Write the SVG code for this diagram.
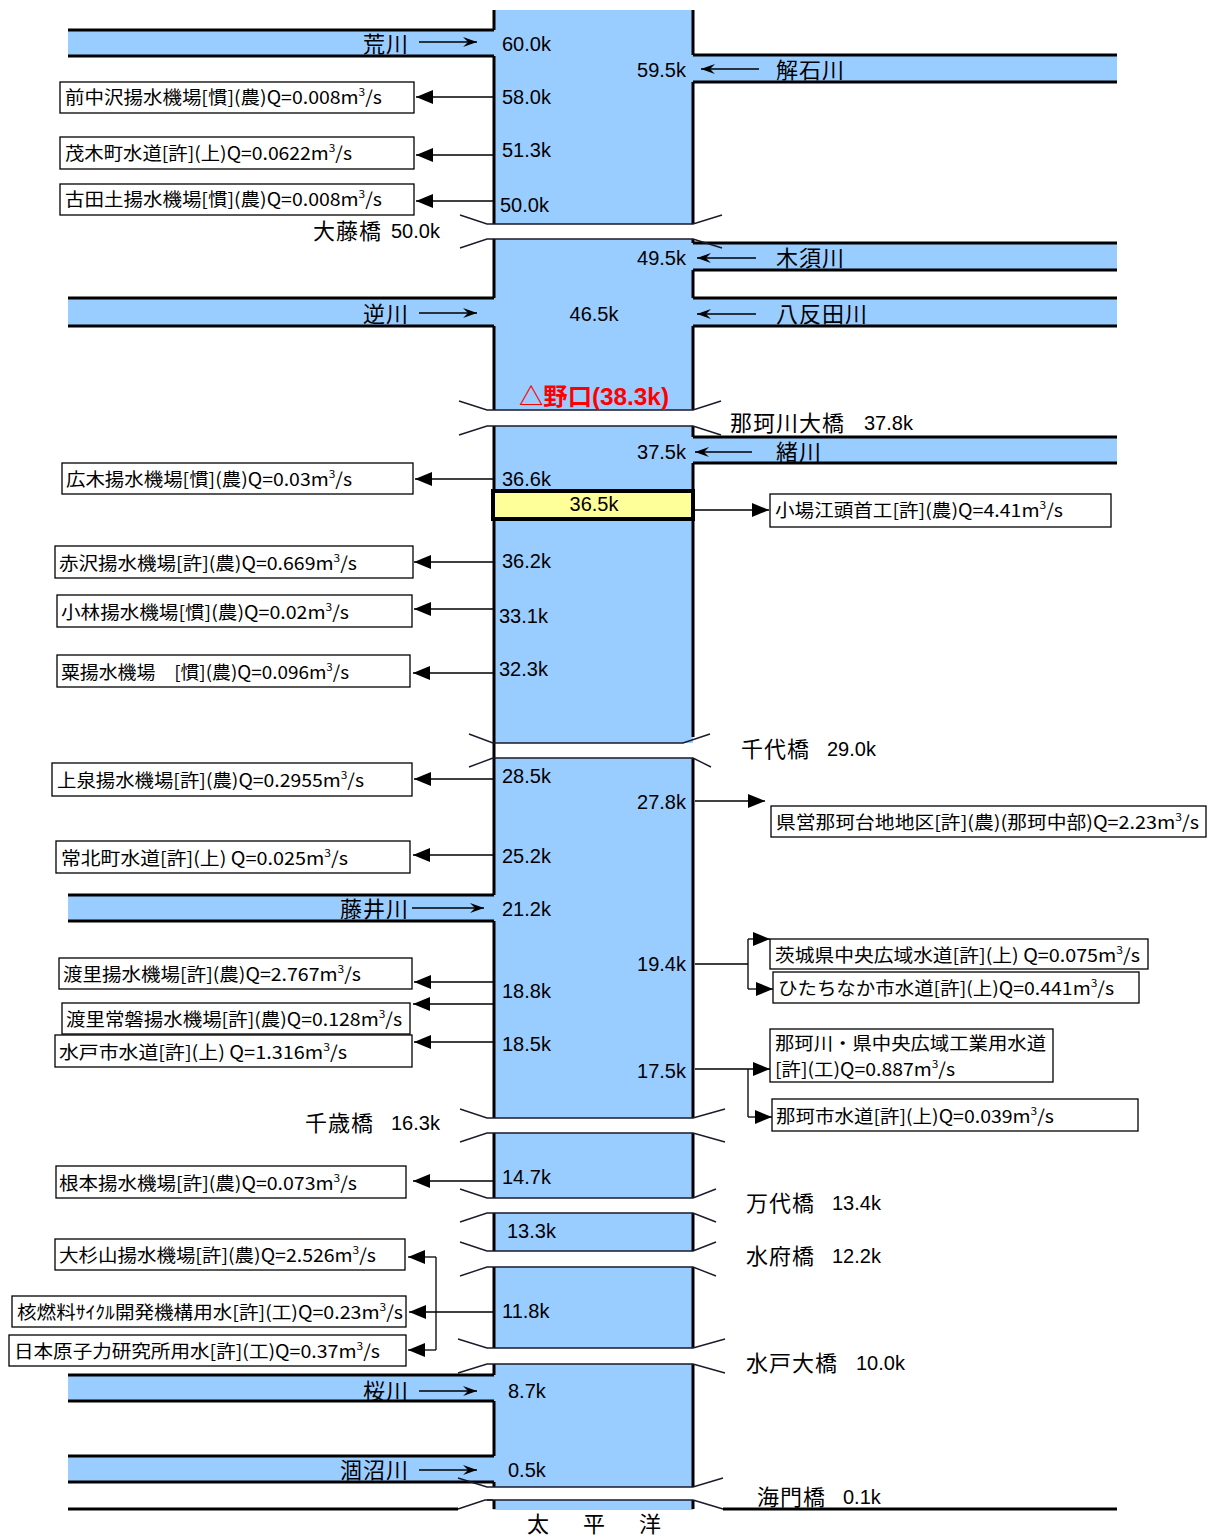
<svg xmlns="http://www.w3.org/2000/svg" width="1214" height="1537" viewBox="0 0 1214 1537">
<style>
.w{fill:#99CCFF}
.bank{fill:none;stroke:#000;stroke-width:3}
.edge{fill:none;stroke:#1a1a2a;stroke-width:1.4}
.lbl{font-family:"Liberation Sans","Noto Sans CJK JP",sans-serif;font-size:20px;fill:#000}
.jp{font-family:"Noto Sans CJK JP",sans-serif;font-size:22px;letter-spacing:1px;fill:#000}
.box rect{fill:#fff;stroke:#000;stroke-width:1.3}
.box text{font-family:"Noto Sans CJK JP",sans-serif;font-size:18px;fill:#000}
.sup{font-size:11px}
.con{fill:none;stroke:#000;stroke-width:1.3}
.trib{fill:none;stroke:#000;stroke-width:1.5}
</style>
<defs>
<marker id="fa" markerUnits="userSpaceOnUse" markerWidth="17" markerHeight="14" refX="17" refY="7" orient="auto"><path d="M0,0 L17,7 L0,14 Z" fill="#000"/></marker>
<marker id="oa" markerUnits="userSpaceOnUse" markerWidth="14" markerHeight="10" refX="14" refY="5" orient="auto"><path d="M0,0 L14,5 L0,10 L5,5 Z" fill="#000"/></marker>
</defs>

<g id="river">
<rect class="w" x="493" y="10" width="200" height="214"/>
<rect class="w" x="493" y="239" width="200" height="171"/>
<rect class="w" x="493" y="426" width="200" height="317"/>
<rect class="w" x="493" y="758" width="200" height="360"/>
<rect class="w" x="493" y="1133" width="200" height="65"/>
<rect class="w" x="493" y="1213" width="200" height="38"/>
<rect class="w" x="493" y="1267" width="200" height="81"/>
<rect class="w" x="493" y="1364" width="200" height="123"/>
<rect class="w" x="493" y="1500" width="200" height="10"/>
<rect class="w" x="68" y="30" width="426" height="26"/>
<rect class="w" x="68" y="298" width="426" height="28"/>
<rect class="w" x="68" y="895" width="426" height="26"/>
<rect class="w" x="68" y="1375" width="426" height="26"/>
<rect class="w" x="68" y="1456" width="426" height="26"/>
<rect class="w" x="693" y="55" width="424" height="27"/>
<rect class="w" x="693" y="243" width="424" height="27"/>
<rect class="w" x="693" y="298" width="424" height="28"/>
<rect class="w" x="693" y="437" width="424" height="26"/>
<path class="bank" d="M494,10V30 M494,56V224 M494,239V298 M494,326V410 M494,426V895 M494,921V1118 M494,1133V1198 M494,1213V1251 M494,1267V1348 M494,1364V1375 M494,1401V1456 M494,1482V1487 M494,1500V1509
M693,10V55 M693,82V224 M693,239V243 M693,270V298 M693,326V410 M693,426V437 M693,463V737 M693,758V1118 M693,1133V1198 M693,1213V1251 M693,1267V1348 M693,1364V1487 M693,1500V1509
M68,30H494 M68,56H494 M68,298H494 M68,326H494 M68,895H494 M68,921H494 M68,1375H494 M68,1401H494 M68,1456H494 M68,1482H494
M693,55H1117 M693,82H1117 M693,243H1117 M693,270H1117 M693,298H1117 M693,326H1117 M693,437H1117 M693,463H1117"/>
<path class="edge" d="M460,215 L487,224 H693 L722,215 M460,248 L487,239 H693 L722,248
M459,401 L487,410 H693 L721,401 M459,435 L487,426 H693 L721,435
M469,734 L493,743 H683 L710,734 M469,767 L493,758 H693 L711,767
M460,1109 L487,1118 H693 L725,1109 M460,1142 L487,1133 H693 L725,1142
M460,1189 L487,1198 H693 L716,1189 M460,1222 L487,1213 H693 L716,1222
M460,1242 L487,1251 H693 L716,1242 M460,1276 L487,1267 H693 L716,1276
M458,1339 L487,1348 H693 L725,1339 M458,1373 L487,1364 H693 L725,1373
M458,1478 L487,1487 H693 L723,1478 M487,1500 H693"/>
<path class="bank" d="M68,1509 H458 M723,1509 H1117" stroke-width="2.5"/>
<path class="edge" d="M458,1509 L485,1500 H493 M693,1500 L723,1509"/>
<rect x="493" y="491" width="200" height="28" fill="#FFFF99" stroke="#000" stroke-width="4"/>
</g>

<g id="labels">
<text class="lbl" x="502" y="51">60.0k</text>
<text class="lbl" x="686" y="77" text-anchor="end">59.5k</text>
<text class="lbl" x="502" y="104">58.0k</text>
<text class="lbl" x="502" y="157">51.3k</text>
<text class="lbl" x="500" y="212">50.0k</text>
<text class="lbl" x="686" y="265" text-anchor="end">49.5k</text>
<text class="lbl" x="594" y="321" text-anchor="middle">46.5k</text>
<text x="519" y="405" textLength="150" lengthAdjust="spacingAndGlyphs" font-family="Liberation Sans,'Noto Sans CJK JP',sans-serif" font-size="24" font-weight="bold" fill="#FF0000">△野口(38.3k)</text>
<text class="lbl" x="686" y="459" text-anchor="end">37.5k</text>
<text class="lbl" x="502" y="486">36.6k</text>
<text class="lbl" x="594" y="511" text-anchor="middle">36.5k</text>
<text class="lbl" x="502" y="568">36.2k</text>
<text class="lbl" x="499" y="623">33.1k</text>
<text class="lbl" x="499" y="676">32.3k</text>
<text class="lbl" x="502" y="783">28.5k</text>
<text class="lbl" x="686" y="809" text-anchor="end">27.8k</text>
<text class="lbl" x="502" y="863">25.2k</text>
<text class="lbl" x="502" y="916">21.2k</text>
<text class="lbl" x="686" y="971" text-anchor="end">19.4k</text>
<text class="lbl" x="502" y="998">18.8k</text>
<text class="lbl" x="502" y="1051">18.5k</text>
<text class="lbl" x="686" y="1078" text-anchor="end">17.5k</text>
<text class="lbl" x="502" y="1184">14.7k</text>
<text class="lbl" x="507" y="1238">13.3k</text>
<text class="lbl" x="502" y="1318">11.8k</text>
<text class="lbl" x="508" y="1398">8.7k</text>
<text class="lbl" x="508" y="1477">0.5k</text>

<text class="jp" x="363" y="52">荒川</text>
<text class="jp" x="776" y="78">解石川</text>
<text class="jp" x="776" y="266">木須川</text>
<text class="jp" x="363" y="322">逆川</text>
<text class="jp" x="776" y="322">八反田川</text>
<text class="jp" x="776" y="460">緒川</text>
<text class="jp" x="340" y="917">藤井川</text>
<text class="jp" x="363" y="1399">桜川</text>
<text class="jp" x="340" y="1478">涸沼川</text>

<text class="jp" x="313" y="239">大藤橋</text><text class="lbl" x="391" y="238">50.0k</text>
<text class="jp" x="730" y="431">那珂川大橋</text><text class="lbl" x="864" y="430">37.8k</text>
<text class="jp" x="741" y="757">千代橋</text><text class="lbl" x="827" y="756">29.0k</text>
<text class="jp" x="305" y="1131">千歳橋</text><text class="lbl" x="391" y="1130">16.3k</text>
<text class="jp" x="746" y="1211">万代橋</text><text class="lbl" x="832" y="1210">13.4k</text>
<text class="jp" x="746" y="1264">水府橋</text><text class="lbl" x="832" y="1263">12.2k</text>
<text class="jp" x="746" y="1371">水戸大橋</text><text class="lbl" x="856" y="1370">10.0k</text>
<text class="jp" x="757" y="1505">海門橋</text><text class="lbl" x="843" y="1504">0.1k</text>
<text class="jp" x="527" y="1532">太</text>
<text class="jp" x="583" y="1532">平</text>
<text class="jp" x="639" y="1532">洋</text>
</g>

<g id="n1" class="box"><rect x="60" y="82" width="354" height="31"/><text x="65" y="104" textLength="317" lengthAdjust="spacingAndGlyphs">前中沢揚水機場[慣](農)Q=0.008m<tspan class="sup" dy="-8">3</tspan><tspan dy="8">/s</tspan></text></g>
<g id="n2" class="box"><rect x="60" y="137" width="354" height="32"/><text x="65" y="160" textLength="287" lengthAdjust="spacingAndGlyphs">茂木町水道[許](上)Q=0.0622m<tspan class="sup" dy="-8">3</tspan><tspan dy="8">/s</tspan></text></g>
<g id="n3" class="box"><rect x="60" y="184" width="354" height="31"/><text x="65" y="206" textLength="317" lengthAdjust="spacingAndGlyphs">古田土揚水機場[慣](農)Q=0.008m<tspan class="sup" dy="-8">3</tspan><tspan dy="8">/s</tspan></text></g>
<g id="n4" class="box"><rect x="62" y="463" width="351" height="31"/><text x="66" y="486" textLength="286" lengthAdjust="spacingAndGlyphs">広木揚水機場[慣](農)Q=0.03m<tspan class="sup" dy="-8">3</tspan><tspan dy="8">/s</tspan></text></g>
<g id="n5" class="box"><rect x="55" y="546" width="358" height="32"/><text x="59" y="570" textLength="298" lengthAdjust="spacingAndGlyphs">赤沢揚水機場[許](農)Q=0.669m<tspan class="sup" dy="-8">3</tspan><tspan dy="8">/s</tspan></text></g>
<g id="n6" class="box"><rect x="57" y="595" width="355" height="32"/><text x="61" y="619" textLength="288" lengthAdjust="spacingAndGlyphs">小林揚水機場[慣](農)Q=0.02m<tspan class="sup" dy="-8">3</tspan><tspan dy="8">/s</tspan></text></g>
<g id="n7" class="box"><rect x="57" y="655" width="353" height="32"/><text x="61" y="679" textLength="288" lengthAdjust="spacingAndGlyphs">粟揚水機場　[慣](農)Q=0.096m<tspan class="sup" dy="-8">3</tspan><tspan dy="8">/s</tspan></text></g>
<g id="n8" class="box"><rect x="52" y="763" width="360" height="33"/><text x="57" y="787" textLength="307" lengthAdjust="spacingAndGlyphs">上泉揚水機場[許](農)Q=0.2955m<tspan class="sup" dy="-8">3</tspan><tspan dy="8">/s</tspan></text></g>
<g id="n9" class="box"><rect x="56" y="841" width="354" height="32"/><text x="61" y="865" textLength="287" lengthAdjust="spacingAndGlyphs">常北町水道[許](上) Q=0.025m<tspan class="sup" dy="-8">3</tspan><tspan dy="8">/s</tspan></text></g>
<g id="n10" class="box"><rect x="59" y="958" width="353" height="31"/><text x="63" y="981" textLength="298" lengthAdjust="spacingAndGlyphs">渡里揚水機場[許](農)Q=2.767m<tspan class="sup" dy="-8">3</tspan><tspan dy="8">/s</tspan></text></g>
<g id="n11" class="box"><rect x="62" y="1003" width="348" height="31"/><text x="66" y="1026" textLength="336" lengthAdjust="spacingAndGlyphs">渡里常磐揚水機場[許](農)Q=0.128m<tspan class="sup" dy="-8">3</tspan><tspan dy="8">/s</tspan></text></g>
<g id="n12" class="box"><rect x="55" y="1035" width="357" height="32"/><text x="59" y="1059" textLength="288" lengthAdjust="spacingAndGlyphs">水戸市水道[許](上) Q=1.316m<tspan class="sup" dy="-8">3</tspan><tspan dy="8">/s</tspan></text></g>
<g id="n13" class="box"><rect x="56" y="1166" width="350" height="32"/><text x="59" y="1190" textLength="298" lengthAdjust="spacingAndGlyphs">根本揚水機場[許](農)Q=0.073m<tspan class="sup" dy="-8">3</tspan><tspan dy="8">/s</tspan></text></g>
<g id="n14" class="box"><rect x="55" y="1239" width="350" height="31"/><text x="59" y="1262" textLength="317" lengthAdjust="spacingAndGlyphs">大杉山揚水機場[許](農)Q=2.526m<tspan class="sup" dy="-8">3</tspan><tspan dy="8">/s</tspan></text></g>
<g id="n15" class="box"><rect x="12" y="1296" width="394" height="31"/><text x="17" y="1319" textLength="386" lengthAdjust="spacingAndGlyphs">核燃料ｻｲｸﾙ開発機構用水[許](工)Q=0.23m<tspan class="sup" dy="-8">3</tspan><tspan dy="8">/s</tspan></text></g>
<g id="n16" class="box"><rect x="9" y="1335" width="397" height="31"/><text x="14" y="1358" textLength="366" lengthAdjust="spacingAndGlyphs">日本原子力研究所用水[許](工)Q=0.37m<tspan class="sup" dy="-8">3</tspan><tspan dy="8">/s</tspan></text></g>
<g id="r1" class="box"><rect x="770" y="494" width="341" height="33"/><text x="775" y="517" textLength="288" lengthAdjust="spacingAndGlyphs">小場江頭首工[許](農)Q=4.41m<tspan class="sup" dy="-8">3</tspan><tspan dy="8">/s</tspan></text></g>
<g id="r2" class="box"><rect x="771" y="806" width="435" height="31"/><text x="776" y="829" textLength="423" lengthAdjust="spacingAndGlyphs">県営那珂台地地区[許](農)(那珂中部)Q=2.23m<tspan class="sup" dy="-8">3</tspan><tspan dy="8">/s</tspan></text></g>
<g id="r3" class="box"><rect x="770" y="939" width="378" height="30"/><text x="775" y="962" textLength="365" lengthAdjust="spacingAndGlyphs">茨城県中央広域水道[許](上) Q=0.075m<tspan class="sup" dy="-8">3</tspan><tspan dy="8">/s</tspan></text></g>
<g id="r4" class="box"><rect x="773" y="972" width="366" height="31"/><text x="778" y="995" textLength="336" lengthAdjust="spacingAndGlyphs">ひたちなか市水道[許](上)Q=0.441m<tspan class="sup" dy="-8">3</tspan><tspan dy="8">/s</tspan></text></g>
<g id="r5" class="box"><rect x="770" y="1029" width="283" height="53"/><text x="775" y="1050" textLength="271" lengthAdjust="spacingAndGlyphs">那珂川・県中央広域工業用水道</text><text x="775" y="1076" textLength="180" lengthAdjust="spacingAndGlyphs">[許](工)Q=0.887m<tspan class="sup" dy="-8">3</tspan><tspan dy="8">/s</tspan></text></g>
<g id="r6" class="box"><rect x="772" y="1099" width="366" height="32"/><text x="776" y="1123" textLength="278" lengthAdjust="spacingAndGlyphs">那珂市水道[許](上)Q=0.039m<tspan class="sup" dy="-8">3</tspan><tspan dy="8">/s</tspan></text></g>

<g id="connectors">
<path class="trib" marker-end="url(#oa)" d="M419,42 H477"/>
<path class="trib" marker-end="url(#oa)" d="M419,313 H477"/>
<path class="trib" marker-end="url(#oa)" d="M412,908 H484"/>
<path class="trib" marker-end="url(#oa)" d="M419,1391 H477"/>
<path class="trib" marker-end="url(#oa)" d="M419,1470 H477"/>
<path class="trib" marker-end="url(#oa)" d="M759,69 H701"/>
<path class="trib" marker-end="url(#oa)" d="M756,258 H697"/>
<path class="trib" marker-end="url(#oa)" d="M756,314 H697"/>
<path class="trib" marker-end="url(#oa)" d="M752,452 H695"/>

<path class="con" marker-end="url(#fa)" d="M493,97 H416"/>
<path class="con" marker-end="url(#fa)" d="M493,155 H416"/>
<path class="con" marker-end="url(#fa)" d="M493,201 H416"/>
<path class="con" marker-end="url(#fa)" d="M493,479 H415"/>
<path class="con" marker-end="url(#fa)" d="M493,562 H414"/>
<path class="con" marker-end="url(#fa)" d="M493,609 H414"/>
<path class="con" marker-end="url(#fa)" d="M493,673 H413"/>
<path class="con" marker-end="url(#fa)" d="M493,779 H414"/>
<path class="con" marker-end="url(#fa)" d="M493,855 H413"/>
<path class="con" marker-end="url(#fa)" d="M493,982 H414"/>
<path class="con" marker-end="url(#fa)" d="M493,1004 H413"/>
<path class="con" marker-end="url(#fa)" d="M493,1042 H414"/>
<path class="con" marker-end="url(#fa)" d="M493,1181 H413"/>
<path class="con" marker-end="url(#fa)" d="M493,1312 H409"/>
<path class="con" marker-end="url(#fa)" d="M436,1257 H408"/>
<path class="con" marker-end="url(#fa)" d="M436,1350 H408"/>
<path class="con" d="M436,1257 V1350"/>
<path class="con" marker-end="url(#fa)" d="M695,510 H769"/>
<path class="con" marker-end="url(#fa)" d="M695,801 H765"/>
<path class="con" d="M695,964 H748 M748,939 V989 M748,1069 V1117"/>
<path class="con" marker-end="url(#fa)" d="M748,939 H770"/>
<path class="con" marker-end="url(#fa)" d="M748,989 H773"/>
<path class="con" marker-end="url(#fa)" d="M695,1069 H770"/>
<path class="con" marker-end="url(#fa)" d="M748,1117 H772"/>
</g>
</svg>
